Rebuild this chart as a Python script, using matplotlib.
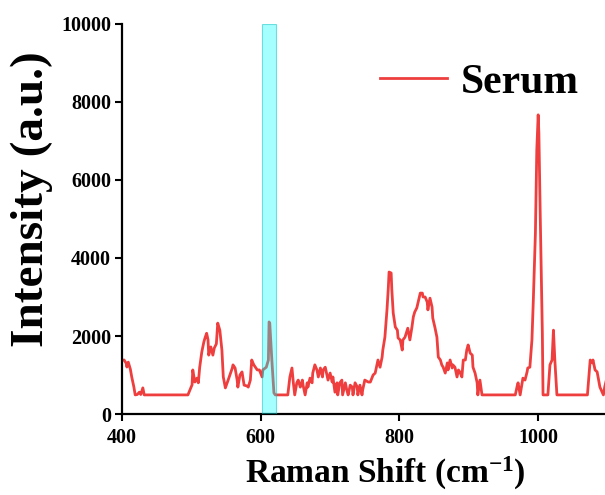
import numpy as np
import matplotlib
matplotlib.use('Agg')
import matplotlib.pyplot as plt

plt.rcParams['font.family'] = ['Liberation Serif', 'DejaVu Serif']
plt.rcParams['font.weight'] = 'bold'
plt.rcParams['mathtext.fontset'] = 'custom'
plt.rcParams['mathtext.rm'] = 'Liberation Serif:bold'
plt.rcParams['mathtext.bf'] = 'Liberation Serif:bold'
plt.rcParams['mathtext.it'] = 'Liberation Serif:bold'

# spectrum (Raman shift, intensity)
shift = [400, 403, 406, 407, 409, 412, 414, 417, 419, 422, 425, 427, 430, 432,
         495, 498, 501, 502, 505, 508, 510, 512, 515, 518, 520, 522, 524, 525,
         528, 531, 533, 536, 537, 538, 541, 544, 546, 549, 553, 559, 560, 563,
         566, 567, 570, 573, 576, 580, 582, 585, 587, 590, 595, 598, 602, 603,
         608, 611, 612, 613, 616, 619, 621, 639, 642, 645, 647, 649, 652, 654,
         657, 660, 661, 664, 667, 668, 671, 674, 675, 678, 681, 683, 686, 689,
         690, 693, 696, 697, 700, 703, 704, 707, 710, 711, 714, 717, 718, 722,
         724, 726, 729, 732, 733, 736, 739, 740, 743, 746, 747, 750, 755, 758,
         761, 762, 765, 768, 769, 772, 775, 776, 779, 782, 784, 785, 788, 789,
         791, 794, 797, 798, 801, 804, 805, 808, 811, 812, 815, 818, 820, 822,
         825, 827, 830, 833, 834, 837, 840, 841, 844, 847, 848, 851, 854, 856,
         859, 861, 863, 866, 869, 870, 873, 876, 877, 880, 883, 885, 887, 890,
         892, 895, 897, 899, 902, 905, 906, 909, 912, 913, 916, 919, 967, 970,
         971, 974, 977, 978, 981, 984, 985, 988, 991, 993, 996, 998, 1000, 1001,
         1003, 1006, 1007, 1014, 1017, 1020, 1022, 1024, 1027, 1071, 1075, 1078,
         1079, 1082, 1085, 1089, 1094, 1096, 1100]
serum = [1380, 1385, 1300, 1205, 1330, 1150, 950, 700, 490, 500, 560, 500, 670, 490,
         490, 620, 750, 1130, 820, 920, 800, 1200, 1590, 1850, 1970, 2070, 1900, 1510,
         1720, 1510, 1690, 1800, 2070, 2330, 2150, 1640, 950, 670, 870, 1180, 1260, 1180,
         870, 690, 1000, 1080, 740, 720, 690, 870, 1385, 1260, 1130, 1130, 950, 1130,
         1200, 1385, 2360, 2330, 1385, 540, 490, 490, 950, 1180, 800, 490, 800, 870,
         690, 870, 740, 490, 800, 690, 920, 800, 1050, 1260, 1130, 950, 1180, 950,
         1130, 1200, 950, 870, 1050, 820, 950, 560, 800, 490, 800, 870, 490, 800,
         620, 490, 740, 690, 490, 800, 700, 490, 740, 490, 620, 870, 820, 820,
         950, 1000, 1050, 1310, 1385, 1200, 1460, 1640, 1970, 2670, 3260, 3640, 3615, 3180,
         2590, 2230, 2150, 1950, 1900, 1640, 1900, 1970, 2150, 2200, 1900, 2230, 2490, 2615,
         2720, 2870, 3100, 3100, 3000, 3000, 2870, 2670, 2970, 2740, 2460, 2230, 1970, 1460,
         1385, 1260, 1200, 1050, 1310, 1130, 1385, 1180, 1260, 1200, 950, 1130, 1080, 950,
         1385, 1385, 1640, 1770, 1560, 1510, 1200, 1050, 800, 490, 870, 490, 490, 740,
         800, 490, 800, 920, 870, 1080, 1180, 1200, 1900, 2920, 4640, 6770, 7670, 7200,
         5050, 2080, 490, 490, 1260, 1385, 2150, 1385, 490, 490, 1385, 1310,
         1385, 1130, 1080, 690, 490, 700, 1000]

band = (602, 622)
xticks = [400, 600, 800, 1000]
yticks = [0, 2000, 4000, 6000, 8000, 10000]

fig = plt.figure(figsize=(6.05, 4.95), dpi=100)
ax = fig.add_axes([0.2017, 0.1636, 0.8025, 0.788])

ax.plot(shift, serum, color='#ef3e3e', linewidth=2.0, label='Serum', zorder=2)
ax.axvspan(band[0], band[1], facecolor=(0, 1, 1, 0.35),
           edgecolor=(0, 0.75, 0.75, 0.5), linewidth=0.8, zorder=3)

ax.set_xlim(400, 1100)
ax.set_ylim(0, 10000)
ax.set_xticks(xticks)
ax.set_yticks(yticks)
ax.tick_params(direction='out', length=5, width=1.5, labelsize=14.5, pad=3)
ax.tick_params(axis='x', pad=5)
for s in ['top', 'right']:
    ax.spines[s].set_visible(False)
for s in ['left', 'bottom']:
    ax.spines[s].set_linewidth(1.6)

ax.set_xlabel('Raman Shift (cm$^{-1}$)', fontsize=24, fontweight='bold')
ax.set_ylabel('Intensity (a.u.)', fontsize=34, fontweight='bold')
ax.xaxis.set_label_coords(0.542, -0.105)
ax.yaxis.set_label_coords(-0.142, 0.552)

leg = ax.legend(loc='center left', bbox_to_anchor=(0.531, 0.849), frameon=False,
                fontsize=30, handlelength=1.6, handletextpad=0.35,
                borderpad=0, borderaxespad=0)
for t in leg.get_texts():
    t.set_fontweight('bold')

fig.savefig('out.png', dpi=100)
